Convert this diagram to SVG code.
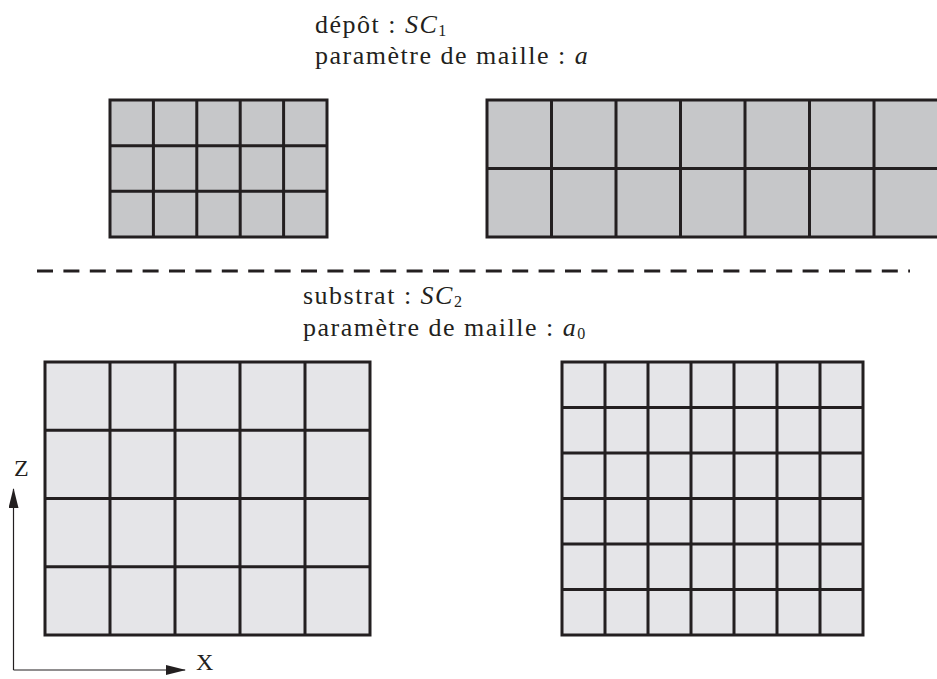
<svg xmlns="http://www.w3.org/2000/svg" width="937" height="679" viewBox="0 0 937 679">
<style>
.t{font-size:26px;letter-spacing:1.5px;fill:#231f20}
.ax-t{font-size:24px;fill:#231f20}
.i{font-style:italic}
.s{font-size:16px;letter-spacing:0}
.g{stroke:#231f20;stroke-width:3;fill:none}
.dep{fill:#c6c7c9}
.sub{fill:#e5e5e8}
.ax{stroke:#231f20;stroke-width:1.2;fill:none}
</style>
<defs>
<marker id="ah" markerWidth="20" markerHeight="10" refX="19" refY="5" orient="auto" markerUnits="userSpaceOnUse">
<path d="M0,0 L20,5 L0,10 Z" fill="#231f20"/>
</marker>
</defs>
<rect width="937" height="679" fill="#ffffff"/>

<g id="label-depot" font-family="Liberation Serif, serif">
<text class="t" x="315" y="33" font-family="Liberation Serif, serif">dépôt : <tspan class="i">SC</tspan><tspan class="s" dy="3">1</tspan></text>
<text class="t" x="315" y="64" font-family="Liberation Serif, serif">paramètre de maille : <tspan class="i">a</tspan></text>
</g>

<g id="depot-small">
<rect class="dep" x="110" y="100" width="217" height="137"/>
<path class="g" d="M153.4,100V237M196.8,100V237M240.2,100V237M283.6,100V237M110,145.7H327M110,191.3H327"/>
<rect class="g" x="110" y="100" width="217" height="137"/>
</g>

<g id="depot-large">
<rect class="dep" x="487" y="100" width="460" height="137"/>
<path class="g" d="M551.5,100V237M616,100V237M680.5,100V237M745,100V237M809.5,100V237M874,100V237M487,168.5H947"/>
<rect class="g" x="487" y="100" width="460" height="137"/>
</g>

<g id="separator">
<line x1="37" y1="271" x2="910" y2="271" stroke="#231f20" stroke-width="3" stroke-dasharray="16,10.4"/>
</g>

<g id="label-substrat" font-family="Liberation Serif, serif">
<text class="t" x="303" y="304" font-family="Liberation Serif, serif">substrat : <tspan class="i">SC</tspan><tspan class="s" dy="3">2</tspan></text>
<text class="t" x="303" y="336" font-family="Liberation Serif, serif">paramètre de maille : <tspan class="i">a</tspan><tspan class="s" dy="3">0</tspan></text>
</g>

<g id="substrat-large">
<rect class="sub" x="45" y="362" width="325" height="273"/>
<path class="g" d="M110,362V635M175,362V635M240,362V635M305,362V635M45,430.25H370M45,498.5H370M45,566.75H370"/>
<rect class="g" x="45" y="362" width="325" height="273"/>
</g>

<g id="substrat-small">
<rect class="sub" x="562" y="362" width="301" height="273"/>
<path class="g" d="M605,362V635M648,362V635M691,362V635M734,362V635M777,362V635M820,362V635M562,407.5H863M562,453H863M562,498.5H863M562,544H863M562,589.5H863"/>
<rect class="g" x="562" y="362" width="301" height="273"/>
</g>

<g id="axes" font-family="Liberation Serif, serif">
<path class="ax" d="M13.5,670V489" marker-end="url(#ah)"/>
<path class="ax" d="M13.5,670H185" marker-end="url(#ah)"/>
<text class="ax-t" x="14" y="476" font-family="Liberation Serif, serif">Z</text>
<text class="ax-t" x="196" y="670" font-family="Liberation Serif, serif">X</text>
</g>
</svg>
